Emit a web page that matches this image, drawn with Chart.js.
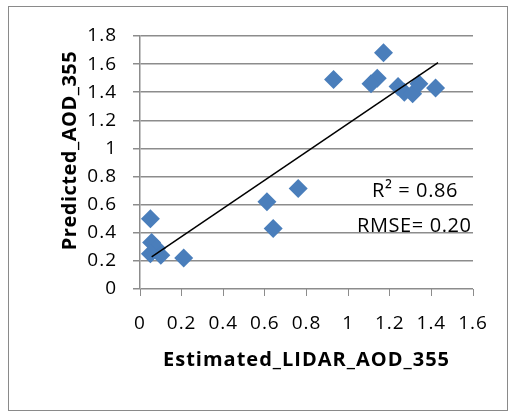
<!DOCTYPE html>
<html><head><meta charset="utf-8">
<script src="https://cdn.jsdelivr.net/npm/chart.js@4/dist/chart.umd.min.js"></script>
<style>html,body{margin:0;padding:0;background:#fff;}#wrap{width:509px;height:414px;position:relative;}</style>
</head><body><div id="wrap"><canvas id="c" width="509" height="414"></canvas></div>
<script>
// ---- data ----
const estimatedLidarAod = [0.05, 0.056, 0.08, 0.05, 0.10, 0.21, 0.61, 0.64, 0.76, 0.93, 1.17, 1.14, 1.11, 1.24, 1.27, 1.31, 1.34, 1.42];
const predictedAod      = [0.50, 0.33, 0.29, 0.25, 0.24, 0.22, 0.62, 0.43, 0.715, 1.49, 1.68, 1.50, 1.46, 1.44, 1.40, 1.39, 1.46, 1.43];
const trendX = [0.056, 1.432];
const trendY = [0.228, 1.61];
const xTicks = [0, 0.2, 0.4, 0.6, 0.8, 1, 1.2, 1.4, 1.6];
const yTicks = [0, 0.2, 0.4, 0.6, 0.8, 1, 1.2, 1.4, 1.6, 1.8];
const xTitle = 'Estimated_LIDAR_AOD_355';
const yTitle = 'Predicted_AOD_355';
const statLabels = ['R\u00B2 = 0.86', 'RMSE= 0.20'];

const FONT = "'Open Sans', 'Noto Sans', sans-serif";
const GRID = '#8c8c8c';

const points = estimatedLidarAod.map((x, i) => ({x: x, y: predictedAod[i]}));
const trend = trendX.map((x, i) => ({x: x, y: trendY[i]}));
const fmt = v => String(Math.round(v * 10) / 10);

const spacingPlugin = {
  id: 'spacing',
  beforeUpdate(chart) { chart.ctx.letterSpacing = '1px'; },
  beforeLayout(chart) { chart.ctx.letterSpacing = '1px'; },
  beforeDraw(chart) { chart.ctx.letterSpacing = '1px'; }
};

const extrasPlugin = {
  id: 'extras',
  afterDraw(chart) {
    const ctx = chart.ctx;
    ctx.save();
    // outer frame
    ctx.letterSpacing = '0px';
    ctx.strokeStyle = '#8a8a8a';
    ctx.lineWidth = 1;
    ctx.strokeRect(8.5, 6.5, 499, 404);
    // y axis title
    ctx.fillStyle = '#000';
    ctx.save();
    ctx.translate(70, 150.5);
    ctx.rotate(-Math.PI / 2);
    ctx.letterSpacing = '0.5px';
    ctx.font = 'bold 20px ' + FONT;
    ctx.textAlign = 'center';
    ctx.textBaseline = 'middle';
    ctx.fillText(yTitle, 0, 0);
    ctx.restore();
    // statistics
    ctx.letterSpacing = '0.6px';
    ctx.font = '20px ' + FONT;
    ctx.textAlign = 'left';
    ctx.textBaseline = 'alphabetic';
    ctx.fillText(statLabels[0], 372, 197);
    ctx.fillText(statLabels[1], 357, 232);
    ctx.restore();
  }
};

Chart.defaults.font.family = FONT;
Chart.defaults.color = '#000';

new Chart(document.getElementById('c'), {
  type: 'scatter',
  data: {
    datasets: [
      {
        label: 'Trend',
        data: trend,
        showLine: true,
        borderColor: '#000',
        borderWidth: 1.5,
        pointRadius: 0,
        order: 0
      },
      {
        label: 'AOD',
        data: points,
        pointStyle: 'rectRot',
        pointRadius: 9.5,
        backgroundColor: '#4a7ebb',
        borderColor: '#4a7ebb',
        borderWidth: 0,
        order: 1
      }
    ]
  },
  options: {
    responsive: false,
    devicePixelRatio: 1,
    animation: false,
    layout: {padding: {left: 8, right: 36, top: 36, bottom: 0}},
    plugins: {legend: {display: false}, tooltip: {enabled: false}},
    scales: {
      x: {
        type: 'linear',
        min: xTicks[0],
        max: xTicks[xTicks.length - 1],
        afterBuildTicks(scale) { scale.ticks = xTicks.map(v => ({value: v})); },
        afterFit(scale) { scale.height = 125; },
        ticks: {callback: v => fmt(v), font: {size: 19}, padding: 16, maxRotation: 0, autoSkip: false},
        grid: {display: true, drawOnChartArea: false, drawTicks: true, tickLength: 7, color: GRID, lineWidth: 1},
        border: {display: false},
        title: {display: true, text: xTitle, font: {size: 20, weight: 'bold'}, padding: {top: 0, bottom: 42}}
      },
      y: {
        type: 'linear',
        min: yTicks[0],
        max: yTicks[yTicks.length - 1],
        afterBuildTicks(scale) { scale.ticks = yTicks.map(v => ({value: v})); },
        afterFit(scale) { scale.width = 132; },
        ticks: {callback: v => fmt(v), font: {size: 19}, padding: 16, autoSkip: false},
        grid: {display: true, drawOnChartArea: true, drawTicks: true, tickLength: 7, color: GRID, lineWidth: 1.5},
        border: {display: true, color: GRID, width: 1.5}
      }
    }
  },
  plugins: [spacingPlugin, extrasPlugin]
});
</script>
</body></html>
